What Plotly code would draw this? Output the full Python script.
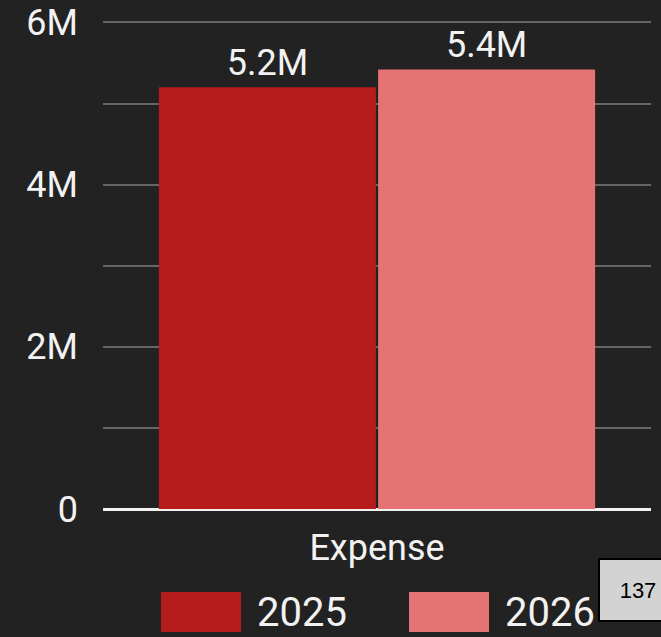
import plotly.graph_objects as go

# Budget data
categories = ["Expense"]
years = ["2025", "2026"]
values_2025 = [5200000]
values_2026 = [5420000]
series_values = [values_2025, values_2026]
colors = ["#b71c1c", "#e57373"]
y_tick_vals = [0, 2000000, 4000000, 6000000]
y_tick_text = ["0", "2M", "4M", "6M"]
page_number = "137"

W, H = 661, 637
L, R, T, B = 103, 10, 20, 128
plot_w = W - L - R
plot_h = H - T - B

BG = "#222222"
FONT = "Roboto"
TEXT = "#f2f2f2"
GRID = "#666666"
Y_MAX = 6030000  # slightly above 6M so the top gridline is kept

fig = go.Figure()
for name, vals, col in zip(years, series_values, colors):
    fig.add_trace(go.Bar(
        x=categories, y=vals, name=name,
        marker=dict(color=col, line=dict(width=0)),
        texttemplate="%{y:.2s}", textposition="outside",
        textfont=dict(family=FONT, size=36, color=TEXT),
        cliponaxis=False, showlegend=False,
    ))

# Legend drawn as large swatches with labels underneath the axis
def px_x(px):
    return (px - L) / plot_w

def px_y(py):
    return (H - B - py) / plot_h

swatches = [(161, 241, 255), (409, 489, 503)]
shapes = []
annotations = []
for (x0, x1, tx), name, col in zip(swatches, years, colors):
    shapes.append(dict(type="rect", xref="paper", yref="paper",
                       x0=px_x(x0), x1=px_x(x1), y0=px_y(632), y1=px_y(592),
                       fillcolor=col, line=dict(width=0), layer="above"))
    annotations.append(dict(xref="paper", yref="paper", x=px_x(tx), y=px_y(612),
                            xanchor="left", yanchor="middle", showarrow=False,
                            text=name, font=dict(family=FONT, size=40, color=TEXT)))

# Page number badge
annotations.append(dict(xref="paper", yref="paper", x=px_x(598), y=px_y(590),
                        xanchor="left", yanchor="middle", showarrow=False,
                        text=page_number, width=76, height=60, borderpad=0,
                        bgcolor="#d3d3d3", bordercolor="#000000", borderwidth=2,
                        font=dict(family="Liberation Sans, Arial", size=22, color="#000000")))

fig.update_layout(
    width=W, height=H,
    margin=dict(l=L, r=R, t=T, b=B, pad=0, autoexpand=False),
    paper_bgcolor=BG, plot_bgcolor=BG,
    barmode="group", bargap=0.2, bargroupgap=0.01,
    font=dict(family=FONT, color=TEXT),
    showlegend=False,
    shapes=shapes, annotations=annotations,
    xaxis=dict(showgrid=False, showline=False, ticks="", automargin=False,
               tickfont=dict(family=FONT, size=36, color=TEXT),
               ticklabelstandoff=14),
    yaxis=dict(range=[0, Y_MAX], tickvals=y_tick_vals, ticktext=y_tick_text,
               tickfont=dict(family=FONT, size=36, color=TEXT),
               showgrid=True, gridcolor=GRID, gridwidth=2,
               minor=dict(dtick=1000000, showgrid=True, gridcolor=GRID, gridwidth=2),
               zeroline=True, zerolinecolor=TEXT, zerolinewidth=3,
               showline=False, ticks="", ticklabelstandoff=24, automargin=False),
)

fig.write_html("out.html")
